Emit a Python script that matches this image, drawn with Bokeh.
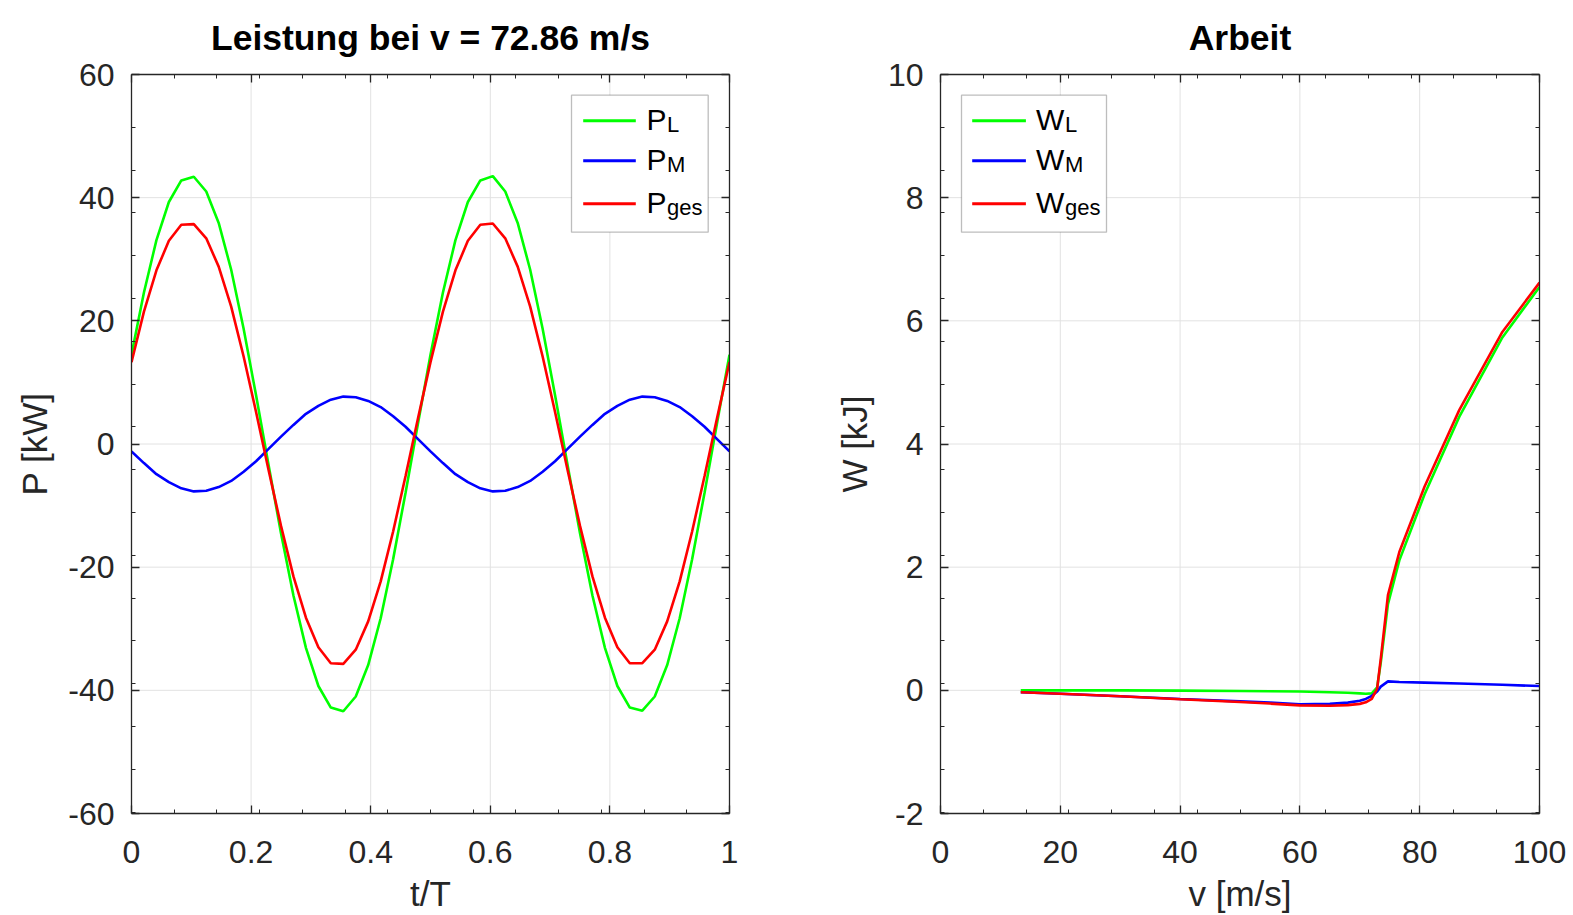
from bokeh.plotting import figure
from bokeh.models import Range1d, LinearAxis, FixedTicker, Label, BoxAnnotation, Arrow, Span
from bokeh.layouts import row
from bokeh.embed import file_html
from bokeh.resources import INLINE

# ---------------- data ----------------
t_T = [0, 0.0208, 0.0417, 0.0625, 0.0833, 0.1042, 0.125, 0.1458, 0.1667, 0.1875,
       0.2083, 0.2292, 0.25, 0.2708, 0.2917, 0.3125, 0.3333, 0.3542, 0.375, 0.3958,
       0.4167, 0.4375, 0.4583, 0.4792, 0.5, 0.5208, 0.5417, 0.5625, 0.5833, 0.6042,
       0.625, 0.6458, 0.6667, 0.6875, 0.7083, 0.7292, 0.75, 0.7708, 0.7917, 0.8125,
       0.8333, 0.8542, 0.875, 0.8958, 0.9167, 0.9375, 0.9583, 0.9792, 1.0]

P_L = [14.5, 24.6, 33.1, 39.3, 42.8, 43.4, 41.0, 35.9, 28.3, 18.7, 7.9, -3.4,
       -14.5, -24.6, -33.1, -39.3, -42.8, -43.4, -41.0, -35.9, -28.3, -18.7, -7.9, 3.4,
       14.5, 24.6, 33.1, 39.3, 42.8, 43.5, 41.0, 35.9, 28.3, 18.7, 7.9, -3.4,
       -14.5, -24.6, -33.1, -39.3, -42.8, -43.3, -41.0, -35.9, -28.3, -18.7, -7.9, 3.4,
       14.5]

P_M = [-1.2, -3.1, -4.9, -6.2, -7.2, -7.7, -7.6, -7.0, -6.0, -4.5, -2.8, -0.8,
       1.2, 3.1, 4.9, 6.2, 7.2, 7.7, 7.6, 7.0, 6.0, 4.5, 2.8, 0.8,
       -1.2, -3.1, -4.9, -6.2, -7.2, -7.7, -7.6, -7.0, -6.0, -4.5, -2.8, -0.8,
       1.2, 3.1, 4.9, 6.2, 7.2, 7.7, 7.6, 7.0, 6.0, 4.5, 2.8, 0.8,
       -1.2]

P_ges = [13.3, 21.5, 28.2, 33.0, 35.6, 35.7, 33.4, 28.8, 22.3, 14.2, 5.2, -4.2,
         -13.3, -21.5, -28.2, -33.0, -35.6, -35.7, -33.4, -28.8, -22.3, -14.2, -5.2, 4.2,
         13.3, 21.5, 28.2, 33.0, 35.6, 35.8, 33.4, 28.8, 22.3, 14.2, 5.2, -4.2,
         -13.3, -21.5, -28.2, -33.0, -35.6, -35.6, -33.4, -28.8, -22.3, -14.2, -5.2, 4.2,
         13.3]

v = [13.4, 20, 30, 40, 50, 55, 60, 65, 68, 70, 71, 72, 72.9, 73.5, 74.7, 76.6,
     80.8, 86.6, 93.8, 100]
W_L = [0.0, 0.0, 0.0, -0.005, -0.01, -0.015, -0.02, -0.03, -0.04, -0.05, -0.055,
       -0.05, 0.05, 0.45, 1.40, 2.11, 3.18, 4.44, 5.73, 6.55]
W_M = [-0.03, -0.055, -0.095, -0.14, -0.18, -0.20, -0.225, -0.22, -0.20, -0.17,
       -0.14, -0.09, -0.02, 0.06, 0.145, 0.135, 0.125, 0.11, 0.09, 0.07]
W_ges = [-0.03, -0.055, -0.095, -0.145, -0.19, -0.215, -0.245, -0.25, -0.24, -0.22,
         -0.195, -0.14, 0.03, 0.51, 1.545, 2.245, 3.305, 4.55, 5.82, 6.62]

left_xticks = [0, 0.2, 0.4, 0.6, 0.8, 1]
left_xlabels = ["0", "0.2", "0.4", "0.6", "0.8", "1"]
left_yticks = [-60, -40, -20, 0, 20, 40, 60]
left_ylabels = ["-60", "-40", "-20", "0", "20", "40", "60"]
right_xticks = [0, 20, 40, 60, 80, 100]
right_xlabels = ["0", "20", "40", "60", "80", "100"]
right_yticks = [-2, 0, 2, 4, 6, 8, 10]
right_ylabels = ["-2", "0", "2", "4", "6", "8", "10"]

FONT = "Liberation Sans"
AXC = "#262626"
GREEN, BLUE, RED = "#00ff00", "#0000ff", "#ff0000"

# frame geometry (pixels)
FT, FB = 74, 813


def make_fig(width, bl, br, xr, yr, title, standoff):
    p = figure(width=width, height=915, x_range=Range1d(*xr), y_range=Range1d(*yr),
               output_backend="svg", toolbar_location=None,
               min_border_left=bl, min_border_right=br,
               min_border_top=FT, min_border_bottom=915 - FB,
               x_axis_location=None, y_axis_location=None)
    p.outline_line_color = None
    p.background_fill_color = "white"
    p.border_fill_color = "white"
    p.title.text = title
    p.title.align = "center"
    p.title.vertical_align = "top"
    p.title.text_font = FONT
    p.title.text_font_size = "35.5px"
    p.title.text_font_style = "bold"
    p.title.text_color = "black"
    p.title.standoff = standoff
    return p


def add_axes(p, xt, xl, yt, yl, xminor, yminor, xlabel, ylabel):
    for side in ["below", "left", "above", "right"]:
        ax = LinearAxis()
        horiz = side in ("below", "above")
        ticks = xt if horiz else yt
        labels = xl if horiz else yl
        ax.ticker = FixedTicker(ticks=ticks, minor_ticks=xminor if horiz else yminor)
        main = side in ("below", "left")
        if main:
            ax.major_label_overrides = {k: s for k, s in zip(ticks, labels)}
            ax.axis_label = xlabel if horiz else ylabel
            ax.major_label_text_font_size = "32px"
            ax.major_label_standoff = 27 if horiz else 17
        else:
            ax.major_label_overrides = {k: "" for k in ticks}
            ax.major_label_text_font_size = "1px"
            ax.major_label_standoff = 0
        ax.major_tick_in = 8
        ax.major_tick_out = 0
        ax.minor_tick_in = 4
        ax.minor_tick_out = 0
        ax.axis_line_color = AXC
        ax.axis_line_width = 1.3
        ax.major_tick_line_color = AXC
        ax.minor_tick_line_color = AXC
        ax.major_tick_line_width = 1.3
        ax.major_label_text_font = FONT
        ax.major_label_text_color = AXC
        ax.axis_label_text_font = FONT
        ax.axis_label_text_font_size = "35px"
        ax.axis_label_text_font_style = "normal"
        ax.axis_label_text_color = AXC
        ax.axis_label_standoff = 8 if horiz else 11
        p.add_layout(ax, side)
    p.xgrid.visible = False
    p.ygrid.visible = False


def add_grid(p, xt, yt):
    for x in xt:
        p.add_layout(Span(location=x, dimension="height", line_color="#e2e2e2",
                          line_width=1, level="underlay"))
    for y in yt:
        p.add_layout(Span(location=y, dimension="width", line_color="#e2e2e2",
                          line_width=1, level="underlay"))


def legend(p, fx, fy, box, lines, text_x, sub_x, base, subs, colors):
    # fx, fy: pixel -> data converters (legend placement only)
    p.add_layout(BoxAnnotation(left=fx(box[0]), right=fx(box[1]), top=fy(box[2]), bottom=fy(box[3]),
                               fill_color="white", fill_alpha=1.0, line_color=AXC, line_width=1.3,
                               level="annotation"))
    for yl, s, c in zip([120.3, 160.3, 203.3], subs, colors):
        p.add_layout(Arrow(x_start=fx(lines[0]), x_end=fx(lines[1]), y_start=fy(yl), y_end=fy(yl),
                           start=None, end=None, line_color=c, line_width=3, level="annotation"))
        p.add_layout(Label(x=fx(text_x), y=fy(yl - 1.0), text=base, text_font=FONT,
                           text_font_size="30px", text_color="black", text_align="left",
                           text_baseline="alphabetic", level="annotation"))
        p.add_layout(Label(x=fx(sub_x), y=fy(yl + 4.0), text=s, text_font=FONT,
                           text_font_size="22px", text_color="black", text_align="left",
                           text_baseline="alphabetic", level="annotation"))


# ---------------- left plot ----------------
L_X0, L_X1 = 131, 729
p1 = make_fig(800, L_X0, 800 - L_X1, (0, 1), (-60, 60), "Leistung bei v = 72.86 m/s", 29)
lx = lambda px: (px - L_X0) / (L_X1 - L_X0)
ly = lambda py: 60 - (py - FT) / (FB - FT) * 120
minor_x1 = [k / 14 for k in range(1, 14)]
minor_y1 = [ly(126.7 + 42.8 * k) for k in range(0, 17) if 126.7 + 42.8 * k < FB]
add_grid(p1, left_xticks, left_yticks)
add_axes(p1, left_xticks, left_xlabels, left_yticks, left_ylabels, minor_x1, minor_y1,
         "t/T", "P [kW]")
p1.line(t_T, P_L, line_color=GREEN, line_width=2.6)
p1.line(t_T, P_M, line_color=BLUE, line_width=2.6)
p1.line(t_T, P_ges, line_color=RED, line_width=2.6)
legend(p1, lx, ly, (571, 707.7, 94.7, 231.7), (582.7, 635.3), 646, 666.5, "P",
       ["L", "M", "ges"], [GREEN, BLUE, RED])

# ---------------- right plot ----------------
R_X0, R_X1 = 140, 739  # relative to the right figure's own left edge (figure starts at x=800)
p2 = make_fig(773, R_X0, 773 - R_X1, (0, 100), (-2, 10), "Arbeit", 29)
rx = lambda px: (px - 800 - R_X0) / (R_X1 - R_X0) * 100
ry = lambda py: 10 - (py - FT) / (FB - FT) * 12
minor_x2 = [k * 100 / 14 for k in range(1, 14)]
minor_y2 = [ry(126.7 + 42.8 * k) for k in range(0, 17) if 126.7 + 42.8 * k < FB]
add_grid(p2, right_xticks, right_yticks)
add_axes(p2, right_xticks, right_xlabels, right_yticks, right_ylabels, minor_x2, minor_y2,
         "v [m/s]", "W [kJ]")
p2.line(v, W_L, line_color=GREEN, line_width=2.6)
p2.line(v, W_M, line_color=BLUE, line_width=2.6)
p2.line(v, W_ges, line_color=RED, line_width=2.6)
legend(p2, rx, ry, (961, 1106, 94.7, 231.7), (971.7, 1025.4), 1035.5, 1064.5, "W",
       ["L", "M", "ges"], [GREEN, BLUE, RED])

layout = row(p1, p2)
open("out.html", "w").write(file_html(layout, INLINE))
